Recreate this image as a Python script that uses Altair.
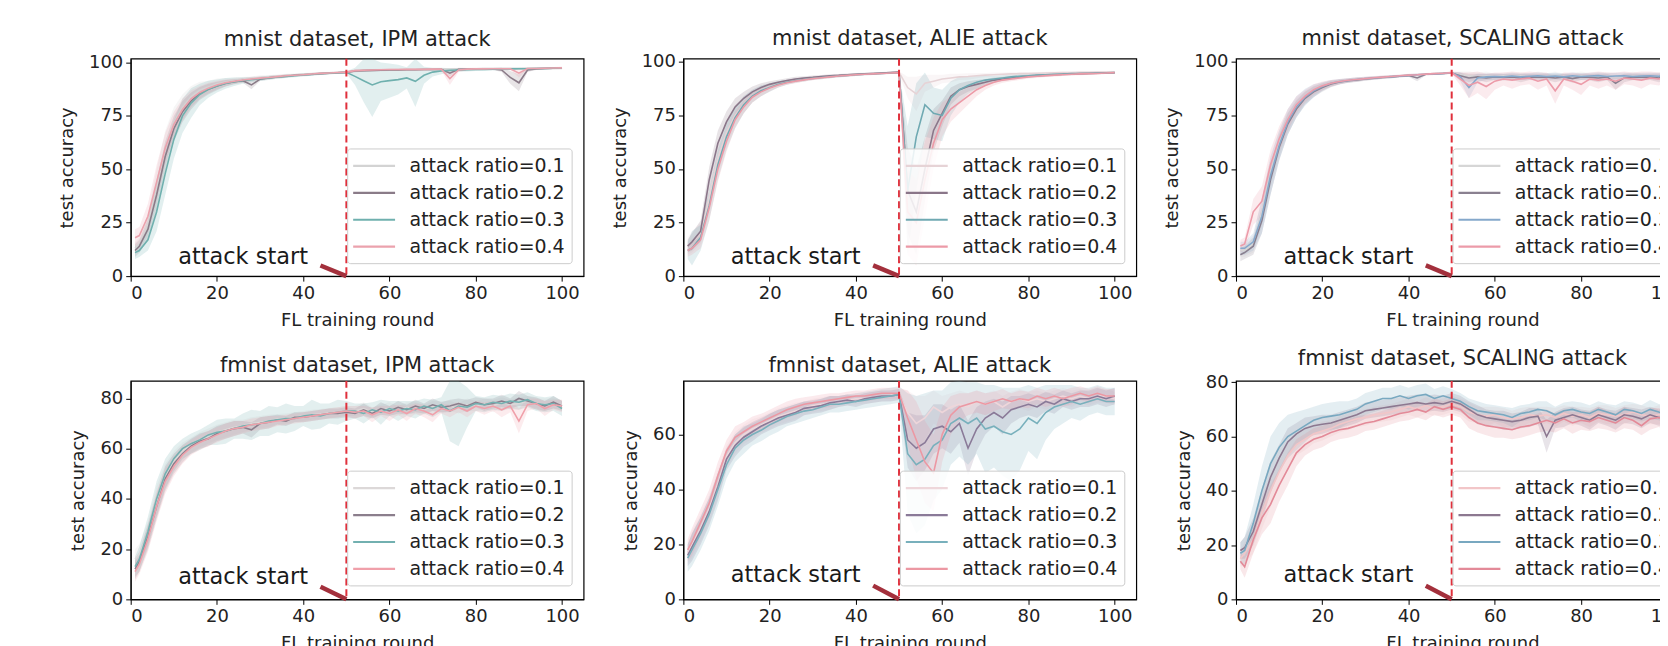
import altair as alt
import pandas as pd

FONT = "DejaVu Sans"

ROUNDS = [1, 2, 4, 6, 8, 10, 12, 14, 16, 18, 20, 22, 24, 26, 28, 30, 32, 34, 36, 38, 40, 42, 44, 46, 48, 50,
          52, 54, 56, 58, 60, 62, 64, 66, 68, 70, 72, 74, 76, 78, 80, 82, 84, 86, 88, 90, 92, 94, 96, 98, 100]
RATIOS = ["attack ratio=0.1", "attack ratio=0.2", "attack ratio=0.3", "attack ratio=0.4"]
BAND_KEYS = ["band 0.1", "band 0.2", "band 0.3", "band 0.4"]
X_TICKS = [0, 20, 40, 60, 80, 100]
ATTACK_ROUND = 50
ANNOT_TEXT = "attack start"
ANNOT_X, ANNOT_Y = 11, 9
ARROW_FROM = (44, 5)
ARROW_TO = (50, 0)

# ---------------- mnist, IPM ----------------
MNIST_IPM_01 = [13, 15, 24, 42, 60, 72, 79, 84, 87, 88.5, 90, 90.8, 91.5, 92, 92.5, 93, 93.3, 93.6, 94, 94.2, 94.5, 94.7, 95, 95.2, 95.3, 95.5,
                96, 96.3, 96.3, 96.5, 96.5, 96.6, 96.7, 96.7, 96.8, 96.8, 96.9, 96.9, 97, 97, 97, 97.1, 97.1, 97.2, 97.2, 97.2, 97.3, 97.3, 97.4, 97.4, 97.5]
MNIST_IPM_02 = [12, 14, 22, 38, 56, 69, 77, 82, 85.5, 87.5, 89, 90.3, 91, 91.5, 89.5, 92.2, 92.8, 93.2, 93.6, 94, 94.3, 94.5, 94.8, 95, 95.2, 95.4,
                96, 96.2, 96.3, 96.4, 96.5, 96.5, 96.6, 96.6, 96.7, 96.7, 96.8, 95, 96.8, 96.9, 96.9, 97, 97, 96.5, 93, 90.5, 96.5, 97, 97.2, 97.3, 97.4]
MNIST_IPM_03 = [11, 12, 17, 30, 48, 64, 75, 81, 85, 87.5, 89, 90.2, 91, 91.6, 92, 92.4, 92.8, 93.2, 93.5, 93.8, 94.2, 94.4, 94.7, 95, 95.2, 95.4,
                93.5, 91.5, 89.5, 91, 91.5, 92, 92.8, 91.2, 94, 95.5, 96, 96.3, 96.5, 96.6, 96.7, 96.8, 96.9, 97, 97, 97.1, 97.1, 97.2, 97.2, 97.3, 97.4]
MNIST_IPM_04 = [18, 19, 28, 44, 60, 71, 78, 83, 86, 88, 89.5, 90.5, 91.2, 91.8, 92.3, 92.7, 93, 93.4, 93.8, 94, 94.3, 94.6, 94.9, 95.1, 95.3, 95.5,
                96.2, 96.4, 96.5, 96.6, 96.7, 96.7, 96.8, 96.8, 96.8, 96.9, 96.9, 92.5, 96.5, 96.9, 97, 97, 97.1, 97.1, 97.1, 95, 97.2, 97.2, 97.3, 97.4, 97.5]
MNIST_IPM_01_SD = [3, 3, 5, 8, 8, 7, 6, 5, 4, 3, 2.5, 2, 1.5, 1.2, 1, 1, 0.8, 0.8, 0.7, 0.7, 0.6, 0.6, 0.6, 0.5, 0.5, 0.5,
                   0.6, 0.5, 0.5, 0.5, 0.5, 0.5, 0.5, 0.5, 0.5, 0.5, 0.5, 0.5, 0.5, 0.5, 0.5, 0.5, 0.5, 0.5, 0.5, 0.5, 0.5, 0.5, 0.5, 0.5, 0.5]
MNIST_IPM_02_SD = [3, 3, 5, 7, 7, 6, 5, 4, 3, 2.5, 2, 1.5, 1.2, 1, 2, 0.8, 0.8, 0.7, 0.7, 0.6, 0.6, 0.6, 0.5, 0.5, 0.5, 0.5,
                   0.6, 0.5, 0.5, 0.5, 0.5, 0.5, 0.5, 0.5, 0.5, 0.5, 0.5, 1.5, 0.5, 0.5, 0.5, 0.5, 0.5, 1, 3, 4, 1, 0.5, 0.5, 0.5, 0.5]
MNIST_IPM_03_SD = [3, 3, 5, 9, 10, 9, 8, 7, 5, 4, 3, 2.5, 2, 1.5, 1.2, 1, 1, 0.8, 0.8, 0.7, 0.7, 0.6, 0.6, 0.6, 0.5, 0.5,
                   4, 10, 15, 9, 8, 7, 5, 12, 4, 2, 1.5, 1, 0.8, 0.8, 0.7, 0.7, 0.6, 0.6, 0.6, 0.6, 0.5, 0.5, 0.5, 0.5, 0.5]
MNIST_IPM_04_SD = [4, 4, 6, 8, 7, 6, 5, 4, 3, 2.5, 2, 1.5, 1.2, 1, 1, 0.8, 0.8, 0.7, 0.7, 0.6, 0.6, 0.6, 0.5, 0.5, 0.5, 0.5,
                   0.6, 0.5, 0.5, 0.5, 0.5, 0.5, 0.5, 0.5, 0.5, 0.5, 0.5, 3, 1, 0.5, 0.5, 0.5, 0.5, 0.5, 0.5, 2, 0.5, 0.5, 0.5, 0.5, 0.5]

# ---------------- mnist, ALIE ----------------
MNIST_ALIE_01 = [14, 16, 20, 36, 55, 67, 75, 80, 84, 86.5, 88, 89.5, 90.5, 91.2, 91.8, 92.3, 92.8, 93.2, 93.5, 93.8, 94, 94.3, 94.5, 94.7, 94.9, 95.1,
                 88, 85, 90, 91, 92, 92.5, 93, 93.2, 93.5, 93.8, 94, 94.2, 94.4, 94.5, 94.6, 94.7, 94.8, 94.9, 95, 95, 95.1, 95.1, 95.2, 95.2, 95.3]
MNIST_ALIE_02 = [14, 16, 21, 45, 62, 72, 79, 83, 86, 88, 89.5, 90.5, 91.3, 92, 92.5, 92.8, 93.2, 93.5, 93.7, 94, 94.2, 94.4, 94.6, 94.8, 95, 95.2,
                 40, 30, 50, 68, 76, 84, 87, 88.5, 89.5, 90.5, 91.5, 92, 92.5, 93, 93.3, 93.6, 93.8, 94, 94.2, 94.3, 94.5, 94.6, 94.7, 94.8, 94.9]
MNIST_ALIE_03 = [12, 13, 18, 33, 52, 65, 74, 80, 84, 86.5, 88, 89.5, 90.5, 91.2, 91.8, 92.3, 92.7, 93.1, 93.4, 93.7, 94, 94.2, 94.4, 94.6, 94.8, 95,
                 40, 65, 80, 76, 75, 83, 87, 89, 90.5, 91.5, 92, 92.5, 93, 93.3, 93.5, 93.8, 94, 94.2, 94.3, 94.5, 94.6, 94.7, 94.8, 94.9, 95]
MNIST_ALIE_04 = [12, 13, 17, 32, 50, 63, 73, 79, 83.5, 86, 87.8, 89.2, 90.3, 91, 91.6, 92.2, 92.6, 93, 93.4, 93.7, 94, 94.2, 94.4, 94.6, 94.8, 95,
                 30, 25, 45, 62, 73, 78, 81, 84, 87, 89, 90.5, 91.5, 92, 92.5, 93, 93.3, 93.6, 93.8, 94, 94.2, 94.4, 94.5, 94.6, 94.8, 95]
MNIST_ALIE_01_SD = [4, 5, 5, 7, 7, 6, 5, 4, 3, 2.5, 2, 1.5, 1.2, 1, 1, 0.8, 0.8, 0.7, 0.7, 0.6, 0.6, 0.6, 0.5, 0.5, 0.5, 0.5,
                    5, 8, 4, 3, 2, 2, 1.5, 1.5, 1.2, 1, 1, 0.8, 0.8, 0.7, 0.7, 0.6, 0.6, 0.6, 0.5, 0.5, 0.5, 0.5, 0.5, 0.5, 0.5]
MNIST_ALIE_02_SD = [3, 4, 5, 6, 6, 5, 4, 3, 2.5, 2, 1.5, 1.2, 1, 1, 0.8, 0.8, 0.7, 0.7, 0.6, 0.6, 0.6, 0.5, 0.5, 0.5, 0.5, 0.5,
                    20, 20, 15, 10, 6, 4, 3, 2.5, 2, 1.5, 1.2, 1, 1, 0.8, 0.8, 0.7, 0.7, 0.6, 0.6, 0.6, 0.5, 0.5, 0.5, 0.5, 0.5]
MNIST_ALIE_03_SD = [4, 8, 6, 7, 7, 6, 5, 4, 3, 2.5, 2, 1.5, 1.2, 1, 1, 0.8, 0.8, 0.7, 0.7, 0.6, 0.6, 0.6, 0.5, 0.5, 0.5, 0.5,
                    30, 25, 15, 12, 12, 8, 6, 4, 3, 2, 1.5, 1.2, 1, 1, 0.8, 0.8, 0.7, 0.7, 0.6, 0.6, 0.6, 0.5, 0.5, 0.5, 0.5]
MNIST_ALIE_04_SD = [3, 3, 4, 6, 6, 5, 4, 3, 2.5, 2, 1.5, 1.2, 1, 1, 0.8, 0.8, 0.7, 0.7, 0.6, 0.6, 0.6, 0.5, 0.5, 0.5, 0.5, 0.5,
                    20, 20, 18, 12, 8, 6, 5, 4, 3, 2, 1.5, 1.2, 1, 1, 0.8, 0.8, 0.7, 0.7, 0.6, 0.6, 0.6, 0.5, 0.5, 0.5, 0.5]

# ---------------- mnist, SCALING ----------------
MNIST_SCALING_01 = [12, 12, 15, 30, 48, 62, 72, 79, 83.5, 86.5, 88.5, 90, 90.8, 91.3, 91.7, 92.1, 92.5, 92.8, 93.1, 93.4, 93.7, 94, 94.2, 94.4, 94.6, 95,
                    94, 93.5, 93, 93.5, 93, 93.5, 93.2, 93.5, 93, 93.5, 93.2, 93.5, 93, 93.3, 93.5, 93.2, 93.4, 93.1, 93.3, 93, 93.4, 93.2, 93, 93.3, 93.5]
MNIST_SCALING_02 = [10, 11, 14, 26, 45, 60, 71, 78, 83, 86, 88, 89.7, 90.6, 91.2, 91.6, 92, 92.4, 92.7, 93, 93.3, 93.6, 92.5, 94.2, 94.4, 94.6, 94.8,
                    93.5, 92.5, 93, 92.5, 93, 92.8, 93, 92.5, 93, 92.8, 93, 92.5, 93, 92.2, 93, 92.8, 92.5, 93, 90, 92.5, 93, 92.8, 93, 92.5, 93]
MNIST_SCALING_03 = [13, 13, 16, 28, 47, 61, 72, 79, 83.5, 86.5, 88.5, 90, 90.8, 91.3, 91.8, 92.2, 92.5, 92.8, 93.1, 93.4, 93.7, 94, 94.2, 94.4, 94.6, 94.9,
                    93, 88, 92.5, 93, 93.2, 93, 93.4, 93, 93.3, 93.5, 93.2, 93.4, 93, 93.5, 93.2, 93.4, 93.6, 93.2, 93.4, 93.5, 93.2, 93.4, 93.5, 93.3, 93.5]
MNIST_SCALING_04 = [14, 15, 30, 35, 52, 64, 73, 80, 84, 87, 88.8, 90, 90.8, 91.4, 91.8, 92.2, 92.6, 92.9, 93.2, 93.5, 93.8, 94, 94.3, 94.5, 94.7, 95,
                    92, 89, 90.5, 88.5, 91, 92, 91.5, 92, 92.5, 91, 92, 86.5, 92, 91, 89.5, 92, 91.5, 92, 91, 92.5, 92, 91.5, 92.5, 92, 93]
MNIST_SCALING_01_SD = [3, 3, 4, 7, 7, 6, 5, 4, 3, 2.5, 2, 1.5, 1.2, 1, 1, 0.8, 0.8, 0.7, 0.7, 0.6, 0.6, 0.6, 0.5, 0.5, 0.5, 0.5,
                       1.5, 2, 2, 2, 1.5, 1.5, 2, 1.5, 1.5, 2, 1.5, 2, 1.5, 1.5, 2, 1.5, 1.5, 2, 1.5, 1.5, 2, 1.5, 1.5, 2, 1.5]
MNIST_SCALING_02_SD = [3, 3, 4, 6, 7, 6, 5, 4, 3, 2.5, 2, 1.5, 1.2, 1, 1, 0.8, 0.8, 0.7, 0.7, 0.6, 0.6, 1.5, 0.5, 0.5, 0.5, 0.5,
                       1.5, 2, 1.5, 2, 1.5, 1.5, 1.5, 2, 1.5, 1.5, 1.5, 2, 1.5, 2, 1.5, 1.5, 2, 1.5, 3, 2, 1.5, 1.5, 1.5, 2, 1.5]
MNIST_SCALING_03_SD = [3, 3, 4, 8, 9, 7, 6, 5, 4, 3, 2, 1.5, 1.2, 1, 1, 0.8, 0.8, 0.7, 0.7, 0.6, 0.6, 0.6, 0.5, 0.5, 0.5, 0.5,
                       2, 5, 2, 1.5, 1.5, 1.5, 1.5, 1.5, 1.5, 1.5, 1.5, 1.5, 1.5, 1.5, 1.5, 1.5, 1.5, 1.5, 1.5, 1.5, 1.5, 1.5, 1.5, 1.5, 1.5]
MNIST_SCALING_04_SD = [3, 3, 6, 7, 7, 6, 5, 4, 3, 2.5, 2, 1.5, 1.2, 1, 1, 0.8, 0.8, 0.7, 0.7, 0.6, 0.6, 0.6, 0.5, 0.5, 0.5, 0.5,
                       3, 6, 5, 6, 4, 3, 4, 3, 3, 4, 3, 6, 3, 4, 5, 3, 4, 3, 4, 3, 3, 4, 3, 3, 2.5]

# ---------------- fmnist, IPM ----------------
FMNIST_IPM_01 = [16, 18, 26, 39, 49, 55, 59, 61.5, 63.5, 65, 66.5, 67.5, 68.5, 69, 70, 70.5, 71, 71.8, 72, 72.5, 73, 73.5, 73.8, 74.2, 74.5, 75,
                 75, 76, 74.5, 75.5, 76, 75, 76.5, 76, 75.5, 77, 76.5, 77, 76, 77.5, 77, 78, 77, 78.5, 77.5, 78, 79, 78, 77.5, 78, 77.5]
FMNIST_IPM_02 = [12, 15, 25, 37, 48, 54, 58, 61, 63, 64, 66, 67, 68, 68.5, 67.5, 70, 70.5, 71.5, 71, 72.5, 72.5, 73, 73.5, 74, 74, 74.5,
                 74, 75.5, 74, 76, 75, 76.5, 75.5, 77, 76, 77.5, 76.5, 77, 78, 77, 78.5, 77.5, 78, 79, 78, 80, 79, 78, 77, 78.5, 77]
FMNIST_IPM_03 = [13, 16, 27, 40, 50, 56, 60, 62, 63.5, 65.5, 66.5, 67, 68, 69, 69.5, 70, 71, 71.5, 72, 72, 73, 73.5, 73, 74, 74.5, 75,
                 75, 74, 75.5, 74.5, 76, 75, 76, 75.5, 77, 76, 77.5, 75, 77, 76.5, 78, 77.5, 78.5, 78, 79, 78.5, 79.5, 78, 77.5, 78, 76]
FMNIST_IPM_04 = [11, 14, 24, 37, 47, 53, 57.5, 60.5, 62.5, 64, 65.5, 67, 68, 68.5, 69.5, 70, 70.5, 71, 71.5, 72, 72.5, 73, 73.5, 74, 74.5, 75,
                 74.5, 75, 73.5, 75, 74, 75.5, 74, 76, 75, 73.5, 76, 75, 76.5, 75, 77, 76, 77, 75.5, 77, 71, 77.5, 78, 76, 77.5, 77]
FMNIST_IPM_01_SD = [4, 4, 5, 6, 5, 4, 3.5, 3, 3, 3, 3, 3, 3, 2.5, 2.5, 2.5, 2.5, 2, 2, 2, 2, 2, 2, 2, 2, 2,
                    2, 2.5, 2, 2, 2.5, 2, 2, 2.5, 2, 2, 2.5, 2, 2, 2.5, 2, 2, 2.5, 2, 2, 2.5, 2, 2, 2.5, 2, 2]
FMNIST_IPM_02_SD = [4, 4, 5, 5, 5, 4, 3.5, 3, 3, 3, 3, 3, 3, 2.5, 3, 2.5, 2.5, 2, 2, 2, 2, 2, 2, 2, 2, 2,
                    2, 2.5, 2, 2.5, 2, 2.5, 2, 2.5, 2, 2.5, 2, 2.5, 2, 2.5, 2, 2.5, 2, 2.5, 2, 3, 2, 2.5, 2, 2.5, 2]
FMNIST_IPM_03_SD = [4, 5, 6, 7, 6, 5, 4, 4, 4, 4, 5, 5, 4, 5, 6, 5, 6, 5, 6, 5, 4, 6, 5, 4, 5, 4,
                    3, 4, 3, 5, 3, 4, 3, 3.5, 3, 3.5, 3, 12, 16, 8, 3, 3, 3, 3, 3, 3, 3, 3, 3, 3, 3]
FMNIST_IPM_04_SD = [4, 4, 5, 6, 5, 4, 3.5, 3, 3, 3, 3, 3, 3, 2.5, 2.5, 2.5, 2.5, 2, 2, 2, 2, 2, 2, 2, 2, 2,
                    2.5, 2, 3, 2, 3, 2, 3, 2, 2.5, 3, 2, 2.5, 2, 2.5, 2, 2.5, 2, 3, 2.5, 5, 2.5, 2, 3, 2, 2.5]

# ---------------- fmnist, ALIE ----------------
FMNIST_ALIE_01 = [17, 20, 26, 33, 42, 52, 57, 60, 62, 63.5, 65, 66.5, 67.5, 68.5, 69.5, 70.5, 71, 71.5, 72, 72.5, 73, 73.2, 73.5, 74, 74.2, 74.5,
                  68, 64, 66, 70, 68, 70, 71, 70, 72, 71, 72, 70, 72, 73, 72, 73, 72, 73, 74, 73, 74, 73, 74, 74, 73]
FMNIST_ALIE_02 = [16, 19, 25, 32, 41, 51, 56, 59, 61, 63, 64.5, 66, 67, 68, 69.5, 70, 70.5, 71.5, 72, 72.5, 72, 73, 73.5, 74, 74, 74.5,
                  58, 55, 57, 62, 63, 61, 64, 55, 62, 66, 68, 66, 69, 70, 71, 70, 72, 71, 73, 72, 73, 73, 74, 73, 74]
FMNIST_ALIE_03 = [15, 18, 24, 31, 40, 49, 55, 58, 60, 61.5, 63.5, 65, 66.5, 67.5, 68.5, 69, 70, 71, 71, 71.5, 72, 72.5, 73, 73.5, 74, 74.5,
                  53, 49, 51, 56, 58, 64, 66, 64, 66, 62, 63, 61, 60, 62, 66, 64, 68, 70, 71, 72, 71, 72, 73, 72, 72]
FMNIST_ALIE_04 = [18, 21, 28, 35, 45, 54, 59, 61, 63, 64.5, 66, 67.5, 69, 70, 71, 71.5, 72, 72.5, 73, 73.5, 74, 74, 74.5, 75, 75, 75,
                  66, 58, 50, 46, 60, 67, 70, 71, 72, 71, 72, 73, 72, 73, 72.5, 74, 73, 74, 73, 74, 75, 74, 75, 74, 74]
FMNIST_ALIE_01_SD = [4, 5, 5, 5, 5, 4, 4, 3.5, 3.5, 3, 3, 3, 3, 3, 2.5, 2.5, 2.5, 2.5, 2, 2, 2, 2, 2, 2, 2, 2,
                     8, 10, 8, 6, 6, 5, 5, 5, 4, 4, 4, 4, 3.5, 3.5, 3.5, 3, 3, 3, 3, 3, 2.5, 2.5, 2.5, 2.5, 2.5]
FMNIST_ALIE_02_SD = [4, 5, 5, 5, 5, 4, 4, 3.5, 3.5, 3, 3, 3, 3, 3, 2.5, 2.5, 2.5, 2.5, 2, 2, 2, 2, 2, 2, 2, 2,
                     10, 12, 10, 9, 8, 8, 7, 10, 8, 6, 5, 6, 5, 4, 4, 4, 3.5, 3.5, 3, 3, 3, 3, 3, 3, 3]
FMNIST_ALIE_03_SD = [5, 6, 6, 6, 6, 5, 5, 5, 4, 4, 4, 4, 3.5, 3.5, 3.5, 3, 3, 3, 3, 3, 3, 3, 3, 3, 3, 3,
                     22, 25, 24, 20, 18, 15, 14, 15, 13, 16, 15, 16, 17, 15, 12, 13, 10, 8, 7, 6, 6, 5, 5, 5, 5]
FMNIST_ALIE_04_SD = [4, 5, 5, 5, 5, 4, 4, 3.5, 3.5, 3, 3, 3, 3, 3, 2.5, 2.5, 2.5, 2.5, 2, 2, 2, 2, 2, 2, 2, 2,
                     10, 14, 15, 14, 10, 7, 5, 4, 4, 4, 3.5, 3.5, 3, 3, 3, 3, 3, 3, 3, 3, 2.5, 2.5, 2.5, 2.5, 2.5]

# ---------------- fmnist, SCALING ----------------
FMNIST_SCALING_01 = [15, 17, 22, 32, 40, 47, 53, 57, 59, 61, 62, 63, 64.5, 65.5, 66.5, 67, 68, 68.5, 69, 70, 71, 70, 71.5, 70.5, 71, 72,
                     71, 69, 68, 67.5, 68, 67, 66.5, 67, 68, 67.5, 68, 67, 68.5, 67.5, 68, 67, 68.5, 68, 67.5, 68, 69, 68, 67.5, 68, 68]
FMNIST_SCALING_02 = [18, 19, 25, 35, 45, 52, 58, 61, 63, 64, 64.5, 65, 66, 67, 68, 69.5, 70, 70.5, 71, 71.5, 72, 72.5, 72, 72.5, 72, 73,
                     72, 70, 68, 67, 66.5, 66, 65.5, 66, 67, 67.5, 60, 66, 67, 68, 67, 66, 68, 67, 66, 68, 67.5, 66.5, 68, 67, 67]
FMNIST_SCALING_03 = [17, 18, 28, 40, 50, 56, 60, 62, 64, 66, 67, 67.5, 68, 69, 70, 72, 73, 74, 74, 75, 74, 75, 75.5, 74, 75, 74,
                     73, 71, 69.5, 69, 68.5, 68, 67, 68.5, 69, 70, 69.5, 68, 69.5, 70, 69, 68.5, 70, 69, 68, 70, 69.5, 68.5, 70, 69, 68]
FMNIST_SCALING_04 = [14, 12, 22, 30, 35, 42, 48, 54, 57, 59, 60, 61.5, 62.5, 63, 64, 65, 65.5, 66.5, 67.5, 68.5, 69, 70, 69, 71, 70, 71,
                     70, 67, 65, 64, 63.5, 63, 62.5, 63.5, 64, 65, 66, 65, 66.5, 65, 66, 65.5, 67, 66, 65, 67, 66, 64, 66.5, 67, 66]
FMNIST_SCALING_01_SD = [3, 4, 5, 6, 6, 5, 5, 4, 4, 3.5, 3.5, 3, 3, 3, 3, 3, 3, 3, 3, 3, 3, 3, 3, 3, 3, 3,
                        3, 3.5, 3, 3.5, 3, 3.5, 3, 3.5, 3, 3.5, 3, 3.5, 3, 3.5, 3, 3.5, 3, 3.5, 3, 3.5, 3, 3.5, 3, 3.5, 3]
FMNIST_SCALING_02_SD = [3, 4, 5, 6, 6, 5, 5, 4, 4, 3.5, 3.5, 3, 3, 3, 3, 3, 3, 3, 3, 3, 3, 3, 3, 3, 3, 3,
                        3, 3, 3.5, 3, 3, 3.5, 3, 3, 3.5, 3, 6, 3, 3.5, 3, 3, 3.5, 3, 3, 3.5, 3, 3, 3.5, 3, 3, 3.5]
FMNIST_SCALING_03_SD = [4, 5, 7, 9, 10, 9, 8, 7, 6, 5, 5, 5, 5, 4, 4, 4, 4, 4, 4, 4, 4, 4, 4, 3.5, 3.5, 3.5,
                        3, 3, 3.5, 3, 3, 3, 3.5, 3, 3, 3, 3.5, 3, 3, 3, 3.5, 3, 3, 3, 3.5, 3, 3, 3, 3.5, 3, 3]
FMNIST_SCALING_04_SD = [3, 4, 5, 6, 7, 6, 6, 5, 4, 4, 4, 3.5, 3.5, 3.5, 3.5, 3, 3, 3, 3, 3, 3, 3, 3, 3, 3, 3,
                        3, 4, 3.5, 3.5, 4, 3.5, 3.5, 4, 3.5, 3.5, 4, 3.5, 3.5, 4, 3.5, 3.5, 4, 3.5, 3.5, 4, 3.5, 3.5, 4, 3.5, 3.5]

PANELS = [
    ("mnist dataset, IPM attack", [MNIST_IPM_01, MNIST_IPM_02, MNIST_IPM_03, MNIST_IPM_04],
     [MNIST_IPM_01_SD, MNIST_IPM_02_SD, MNIST_IPM_03_SD, MNIST_IPM_04_SD], 101.8, [0, 25, 50, 75, 100],
     ["#d3d3d3", "#8a7b88", "#6fb0ae", "#eba2ad"]),
    ("mnist dataset, ALIE attack", [MNIST_ALIE_01, MNIST_ALIE_02, MNIST_ALIE_03, MNIST_ALIE_04],
     [MNIST_ALIE_01_SD, MNIST_ALIE_02_SD, MNIST_ALIE_03_SD, MNIST_ALIE_04_SD], 101.5, [0, 25, 50, 75, 100],
     ["#e6d3d6", "#8a7689", "#6fa9b2", "#ec9aa7"]),
    ("mnist dataset, SCALING attack", [MNIST_SCALING_01, MNIST_SCALING_02, MNIST_SCALING_03, MNIST_SCALING_04],
     [MNIST_SCALING_01_SD, MNIST_SCALING_02_SD, MNIST_SCALING_03_SD, MNIST_SCALING_04_SD], 101.5, [0, 25, 50, 75, 100],
     ["#d6d6d6", "#8a8090", "#85a8cb", "#ec9ba9"]),
    ("fmnist dataset, IPM attack", [FMNIST_IPM_01, FMNIST_IPM_02, FMNIST_IPM_03, FMNIST_IPM_04],
     [FMNIST_IPM_01_SD, FMNIST_IPM_02_SD, FMNIST_IPM_03_SD, FMNIST_IPM_04_SD], 87, [0, 20, 40, 60, 80],
     ["#dcd8d8", "#8b7e8c", "#72b0b0", "#f0a0aa"]),
    ("fmnist dataset, ALIE attack", [FMNIST_ALIE_01, FMNIST_ALIE_02, FMNIST_ALIE_03, FMNIST_ALIE_04],
     [FMNIST_ALIE_01_SD, FMNIST_ALIE_02_SD, FMNIST_ALIE_03_SD, FMNIST_ALIE_04_SD], 79.5, [0, 20, 40, 60],
     ["#eed6da", "#8a7a98", "#78b0bc", "#ec98a3"]),
    ("fmnist dataset, SCALING attack", [FMNIST_SCALING_01, FMNIST_SCALING_02, FMNIST_SCALING_03, FMNIST_SCALING_04],
     [FMNIST_SCALING_01_SD, FMNIST_SCALING_02_SD, FMNIST_SCALING_03_SD, FMNIST_SCALING_04_SD], 80.5, [0, 20, 40, 60, 80],
     ["#f2c6c8", "#8c7890", "#78a8c0", "#e38a98"]),
]

PLOT_W = 454
PLOT_HEIGHTS = [218, 218, 218, 219, 219, 219]
X_MAX = 105


def make_panel(title, series, sds, ymax, yticks, colors, height):
    rows = []
    for name, key, vals, devs in zip(RATIOS, BAND_KEYS, series, sds):
        for r, v, d in zip(ROUNDS, vals, devs):
            rows.append({"round": r, "acc": v, "low": max(v - d, 0), "high": min(v + d, ymax),
                         "ratio": name, "band": key})
    df = pd.DataFrame(rows)

    xs = alt.Scale(domain=[0, X_MAX], nice=False, zero=False)
    ys = alt.Scale(domain=[0, ymax], nice=False)
    xaxis = alt.Axis(values=X_TICKS, title="FL training round", titlePadding=9)
    yaxis = alt.Axis(values=yticks, title="test accuracy", titlePadding=12)

    def X(f):
        return alt.X(f, scale=xs, axis=xaxis)

    def Y(f):
        return alt.Y(f, scale=ys, axis=yaxis)

    band = alt.Chart(df).mark_area(fillOpacity=0.2, clip=True).encode(
        x=X("round:Q"), y=Y("low:Q"), y2="high:Q",
        fill=alt.Fill("band:N", scale=alt.Scale(domain=BAND_KEYS, range=colors), legend=None),
    )
    line = alt.Chart(df).mark_line(strokeWidth=1.6, clip=True).encode(
        x=X("round:Q"), y=Y("acc:Q"),
        color=alt.Color("ratio:N", scale=alt.Scale(domain=RATIOS, range=colors), legend=alt.Legend(
            title=None, orient="none",
            legendX=round(PLOT_W * ATTACK_ROUND / X_MAX) + 1, legendY=90,
            fillColor="rgba(255,255,255,0.85)", strokeColor="#cccccc", cornerRadius=3,
            padding=6, symbolType="M-2.1,0H2.1", symbolSize=400, symbolStrokeWidth=2.2,
            symbolOffset=9.5, labelOffset=24, rowPadding=5, labelLimit=300,
            labelExpr="datum.label + '\u00a0'",
            labelFontSize=19, labelFont=FONT, labelColor="#222222")),
    )
    vline = alt.Chart(pd.DataFrame({"round": [ATTACK_ROUND]})).mark_rule(
        color="#e0303c", strokeDash=[7, 4], strokeWidth=2).encode(x=X("round:Q"))
    arrow = alt.Chart(pd.DataFrame({"x0": [ARROW_FROM[0]], "y0": [ARROW_FROM[1]],
                                    "x1": [ARROW_TO[0]], "y1": [ARROW_TO[1]]})).mark_rule(
        color="#a3303c", strokeWidth=4.5).encode(x=X("x0:Q"), y=Y("y0:Q"), x2="x1:Q", y2="y1:Q")
    text = alt.Chart(pd.DataFrame({"x": [ANNOT_X], "y": [ANNOT_Y], "t": [ANNOT_TEXT]})).mark_text(
        align="left", baseline="middle", fontSize=22.5, font=FONT, color="#1a1a1a").encode(
        x=X("x:Q"), y=Y("y:Q"), text="t:N")

    return alt.layer(band, line, vline, arrow, text).properties(
        width=PLOT_W, height=height, title=title)


panels = [make_panel(*p, h) for p, h in zip(PANELS, PLOT_HEIGHTS)]

chart = alt.concat(*panels, columns=3, spacing={"row": 17, "column": 26}).resolve_scale(
    x="independent", y="independent", color="independent", fill="independent"
).properties(
    padding={"left": 50, "top": 18, "right": -30, "bottom": 0}
).configure_view(
    stroke="black", strokeWidth=1.2
).configure_axis(
    grid=False, domainColor="black", tickColor="black", tickSize=5, labelPadding=3,
    labelFontSize=18, labelFont=FONT, labelColor="#222222",
    titleFontSize=18, titleFont=FONT, titleColor="#222222", titleFontWeight="normal"
).configure_title(
    fontSize=21, font=FONT, fontWeight="normal", color="#222222", offset=4
)

chart.save("out.html", embed_options={"renderer": "svg", "actions": False})
